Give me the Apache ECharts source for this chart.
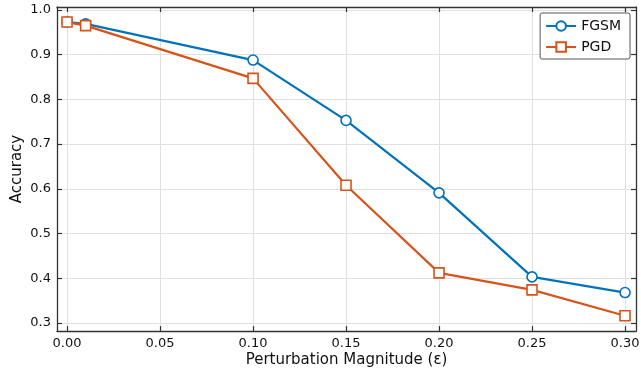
<!DOCTYPE html>
<html>
<head>
<meta charset="utf-8">
<script src="https://cdn.jsdelivr.net/npm/echarts@6.0.0/dist/echarts.min.js"></script>
<style>
  html, body { margin: 0; padding: 0; background: #fff; }
  #chart { width: 641px; height: 373px; }
</style>
</head>
<body>
<div id="chart"></div>
<script>
// data
const epsilons = [0.0, 0.01, 0.10, 0.15, 0.20, 0.25, 0.30];
const fgsmAcc = [0.973, 0.969, 0.888, 0.753, 0.591, 0.403, 0.368];
const pgdAcc = [0.973, 0.965, 0.847, 0.608, 0.412, 0.374, 0.316];
const xTicks = [0, 0.05, 0.10, 0.15, 0.20, 0.25, 0.30];
const yTicks = [0.3, 0.4, 0.5, 0.6, 0.7, 0.8, 0.9, 1.0];

const FONT = 'DejaVu Sans';
const chart = echarts.init(document.getElementById('chart'));

const pairs = (xs, ys) => xs.map((x, i) => [x, ys[i]]);

const frameLine = { show: true, onZero: false, lineStyle: { color: '#333', width: 1.3 } };
const innerTick = (vals) => ({
  show: true, inside: true, length: 5, customValues: vals,
  lineStyle: { color: '#333', width: 1.2 }
});

const xMin = -0.0054, xMax = 0.3059;
const yMin = 0.282, yMax = 1.0067;

const option = {
  animation: false,
  textStyle: { fontFamily: FONT },
  grid: { left: 57, right: 5, top: 7, bottom: 42, outerBoundsMode: 'none' },
  legend: {
    right: 11, top: 13,
    orient: 'vertical',
    itemWidth: 30, itemHeight: 12, itemGap: 7,
    padding: [6, 9, 5, 5],
    borderColor: '#555', borderWidth: 1, borderRadius: 2,
    backgroundColor: '#fff',
    textStyle: { fontFamily: FONT, fontSize: 14, color: '#111' },
    data: ['FGSM', 'PGD']
  },
  xAxis: [{
    type: 'value', min: xMin, max: xMax,
    name: 'Perturbation Magnitude (ε)', nameLocation: 'middle', nameGap: 22,
    nameMoveOverlap: false,
    nameTextStyle: { fontFamily: FONT, fontSize: 15, color: '#111' },
    axisLine: frameLine,
    axisTick: innerTick(xTicks),
    axisLabel: {
      customValues: xTicks, fontSize: 13, color: '#111', margin: 6,
      formatter: v => v.toFixed(2)
    },
    splitLine: { show: true, lineStyle: { color: '#e0e0e0', width: 1 } }
  }, {
    type: 'value', position: 'top', min: xMin, max: xMax,
    axisLine: frameLine,
    axisTick: innerTick(xTicks),
    axisLabel: { show: false },
    splitLine: { show: false }
  }],
  yAxis: [{
    type: 'value', min: yMin, max: yMax,
    name: 'Accuracy', nameLocation: 'middle', nameGap: 32,
    nameMoveOverlap: false,
    nameTextStyle: { fontFamily: FONT, fontSize: 15, color: '#111' },
    axisLine: frameLine,
    axisTick: innerTick(yTicks),
    axisLabel: {
      customValues: yTicks, fontSize: 13, color: '#111', margin: 6,
      formatter: v => v.toFixed(1)
    },
    splitLine: { show: true, lineStyle: { color: '#e0e0e0', width: 1 } }
  }, {
    type: 'value', position: 'right', min: yMin, max: yMax,
    axisLine: frameLine,
    axisTick: innerTick(yTicks),
    axisLabel: { show: false },
    splitLine: { show: false }
  }],
  series: [{
    name: 'FGSM', type: 'line',
    data: pairs(epsilons, fgsmAcc),
    symbol: 'circle', symbolSize: 10,
    lineStyle: { color: '#0072BD', width: 2.2 },
    itemStyle: { color: '#fff', borderColor: '#0072BD', borderWidth: 1.6 },
    z: 3
  }, {
    name: 'PGD', type: 'line',
    data: pairs(epsilons, pgdAcc),
    symbol: 'rect', symbolSize: 10,
    lineStyle: { color: '#D95319', width: 2.2 },
    itemStyle: { color: '#fff', borderColor: '#D95319', borderWidth: 1.6 },
    z: 4
  }]
};

chart.setOption(option);
</script>
</body>
</html>
